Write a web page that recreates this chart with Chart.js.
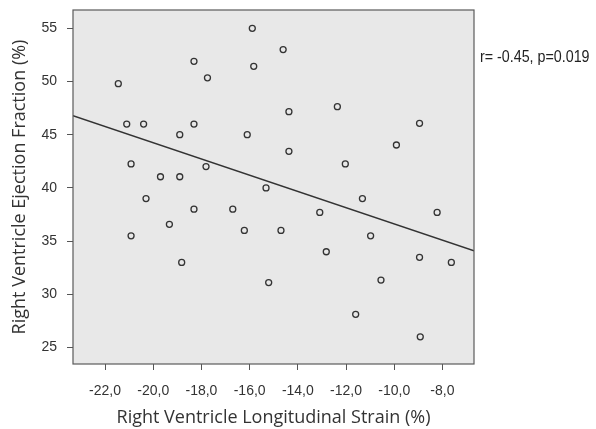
<!DOCTYPE html>
<html>
<head>
<meta charset="utf-8">
<script src="https://cdn.jsdelivr.net/npm/chart.js@4"></script>
<style>
  html, body { margin: 0; padding: 0; background: #ffffff; }
  #wrap { width: 596px; height: 429px; }
</style>
</head>
<body>
<div id="wrap"><canvas id="chart" width="596" height="429"></canvas></div>
<script>
// Valores
const strainValues = [
  -21.45, -21.1, -20.4, -20.92, -19.7, -18.9, -20.3, -18.9, -18.31, -17.75,
  -18.31, -17.81, -18.31, -16.7, -16.1, -15.89, -15.83, -15.32, -14.61, -14.37,
  -14.37, -12.36, -12.03, -9.91, -8.95, -11.32, -13.09, -8.22, -20.92, -19.33,
  -18.82, -16.22, -14.7, -15.21, -10.98, -12.82, -8.95, -7.63, -10.55, -11.6,
  -8.92
];
const efValues = [
  49.8, 46.0, 46.0, 42.25, 41.05, 41.05, 39.0, 45.0, 51.9, 50.35,
  46.0, 42.0, 38.0, 38.0, 45.0, 55.0, 51.43, 40.0, 53.0, 47.16,
  43.44, 47.63, 42.25, 44.03, 46.07, 39.0, 37.7, 37.7, 35.5, 36.58,
  33.0, 36.0, 36.0, 31.1, 35.5, 34.0, 33.48, 33.0, 31.34, 28.12,
  26.0
];

// Recta de regresión (extremos en los límites del eje)
const fitX = [-23.33, -6.69];
const fitY = [46.79, 34.1];

// Ticks de los ejes
const xTicks = [-22, -20, -18, -16, -14, -12, -10, -8];
const yTicks = [25, 30, 35, 40, 45, 50, 55];

const annotationText = 'r= -0.45, p=0.019';

// Fondo gris y marco del área de trazado
const framePlugin = {
  id: 'frame',
  beforeDraw(chart) {
    const {ctx, chartArea: a} = chart;
    ctx.save();
    ctx.fillStyle = '#e8e8e8';
    ctx.fillRect(a.left, a.top, a.right - a.left, a.bottom - a.top);
    ctx.restore();
  },
  afterDraw(chart) {
    const {ctx, chartArea: a} = chart;
    ctx.save();
    ctx.strokeStyle = '#5a5a5a';
    ctx.lineWidth = 1.2;
    ctx.strokeRect(a.left, a.top, a.right - a.left, a.bottom - a.top);
    // Texto del coeficiente (letra estrecha simulada)
    ctx.translate(a.right + 6, 57);
    ctx.scale(0.84, 1);
    ctx.fillStyle = '#222';
    ctx.font = '17px "Liberation Sans", Arial, sans-serif';
    ctx.textBaseline = 'middle';
    ctx.textAlign = 'left';
    ctx.fillText(annotationText, 0, 0);
    ctx.restore();
  }
};

const titleFont = { family: '"Open Sans", "Noto Sans", sans-serif', size: 18 };
const tickFont = { family: '"Liberation Sans", Arial, sans-serif', size: 14 };

new Chart(document.getElementById('chart').getContext('2d'), {
  type: 'scatter',
  data: {
    datasets: [
      {
        data: strainValues.map((x, i) => ({ x: x, y: efValues[i] })),
        pointRadius: 3,
        pointBorderWidth: 1.3,
        pointBorderColor: '#333',
        pointBackgroundColor: 'rgba(0,0,0,0)'
      },
      {
        type: 'line',
        data: fitX.map((x, i) => ({ x: x, y: fitY[i] })),
        borderColor: '#333',
        borderWidth: 1.5,
        pointRadius: 0,
        fill: false
      }
    ]
  },
  plugins: [framePlugin],
  options: {
    responsive: false,
    animation: false,
    layout: { padding: { top: 10, right: 122, left: 0, bottom: 0 } },
    plugins: {
      legend: { display: false },
      tooltip: { enabled: false }
    },
    scales: {
      x: {
        type: 'linear',
        min: -23.33,
        max: -6.69,
        afterFit: (s) => { s.height = 65; s.paddingLeft = 0; s.paddingRight = 0; },
        afterBuildTicks: (s) => { s.ticks = xTicks.map(v => ({ value: v })); },
        border: { display: false },
        grid: { drawOnChartArea: false, drawTicks: true, tickLength: 6, color: '#555' },
        ticks: {
          font: tickFont,
          color: '#333',
          padding: 13,
          callback: (v) => v.toFixed(1).replace('.', ',')
        },
        title: {
          display: true,
          text: 'Right Ventricle Longitudinal Strain (%)',
          font: titleFont,
          color: '#333',
          padding: { top: 0, bottom: 0 }
        }
      },
      y: {
        type: 'linear',
        min: 23.45,
        max: 56.72,
        afterFit: (s) => { s.width = 73; s.paddingTop = 0; s.paddingBottom = 0; },
        afterBuildTicks: (s) => { s.ticks = yTicks.map(v => ({ value: v })); },
        border: { display: false },
        grid: { drawOnChartArea: false, drawTicks: true, tickLength: 6, color: '#555' },
        ticks: {
          font: tickFont,
          color: '#333',
          padding: 10
        },
        title: {
          display: true,
          text: 'Right Ventricle Ejection Fraction (%)',
          font: titleFont,
          color: '#333',
          padding: { top: 9, bottom: 0 }
        }
      }
    }
  }
});
</script>
</body>
</html>
